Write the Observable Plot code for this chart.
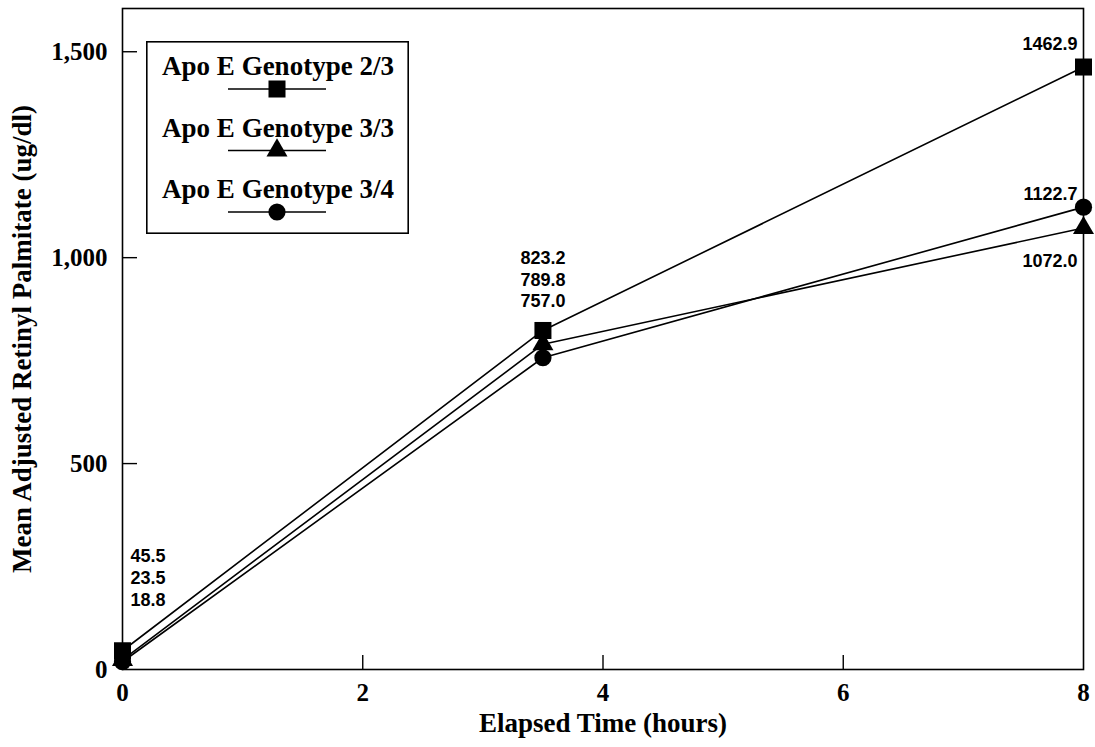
<!DOCTYPE html>
<html>
<head>
<meta charset="utf-8">
<script src="https://cdn.jsdelivr.net/npm/d3@7"></script>
<script src="https://cdn.jsdelivr.net/npm/@observablehq/plot@0.6"></script>
<style>
  html, body { margin: 0; padding: 0; background: #fff; }
  #wrap { position: relative; width: 1095px; height: 747px; }
  #legend { position: absolute; left: 146px; top: 41px; }
</style>
</head>
<body>
<div id="wrap"></div>
<script>
// ---- data ----
const times = [0, 3.5, 8];
const seriesNames = ["Apo E Genotype 2/3", "Apo E Genotype 3/3", "Apo E Genotype 3/4"];
const values23 = [45.5, 823.2, 1462.9];
const values33 = [23.5, 789.8, 1072.0];
const values34 = [18.8, 757.0, 1122.7];
const xTicks = [0, 2, 4, 6, 8];
const yTicks = [0, 500, 1000, 1500];
const xLabel = "Elapsed Time (hours)";
const yLabel = "Mean Adjusted Retinyl Palmitate (ug/dl)";

const seriesValues = [values23, values33, values34];
const symbols = ["square", "triangle", "circle"];
const radii = [9.6, 7.8, 8.6];

const rows = [];
seriesNames.forEach((s, i) => times.forEach((t, j) => rows.push({series: s, time: t, value: seriesValues[i][j]})));

const fmt = d3.format(".1f");
// stacked labels at a time index (values descending)
function groupLabel(j) {
  const vals = seriesValues.map(v => v[j]).sort((a, b) => b - a);
  return {time: times[j], value: vals[0], text: vals.map(fmt).join("\n")};
}
function pointLabel(i, j) {
  return {time: times[j], value: seriesValues[i][j], text: fmt(seriesValues[i][j])};
}

const serif = "Liberation Serif, Times New Roman, serif";
const sans = "Liberation Sans, Arial, Helvetica, sans-serif";
const labelStyle = {x: "time", y: "value", text: "text", fontFamily: sans, fontWeight: "bold", fontSize: 18, fill: "black", lineHeight: 1.22};

const marks = [
  Plot.line(rows, {x: "time", y: "value", z: "series", stroke: "black", strokeWidth: 1.6}),
  ...seriesNames.map((s, i) => Plot.dot(rows.filter(d => d.series === s), {x: "time", y: "value", symbol: symbols[i], r: radii[i], fill: "black", stroke: "none"})),
  Plot.frame({stroke: "black", strokeWidth: 1.6}),
  Plot.axisX({ticks: xTicks.slice(1, -1), tickSize: -14, text: null, label: null, strokeWidth: 1.4}),
  Plot.axisY({ticks: yTicks.slice(1), tickSize: -15, text: null, label: null, strokeWidth: 1.4}),
  Plot.axisX({ticks: xTicks, tickSize: 0, tickPadding: 14, label: null, fontFamily: serif, fontWeight: "bold", fontSize: 25, tickFormat: d3.format("d")}),
  Plot.axisY({ticks: yTicks, tickSize: 0, tickPadding: 15, label: null, fontFamily: serif, fontWeight: "bold", fontSize: 25, tickFormat: d3.format(",")}),
  Plot.text([xLabel], {frameAnchor: "bottom", dy: 62, textAnchor: "middle", fontFamily: serif, fontWeight: "bold", fontSize: 27, fill: "black"}),
  Plot.text([yLabel], {frameAnchor: "left", rotate: -90, textAnchor: "middle", dx: -100, dy: 0, fontFamily: serif, fontWeight: "bold", fontSize: 27, fill: "black"}),
  Plot.text([groupLabel(0)], {...labelStyle, textAnchor: "start", dx: 8, dy: -74}),
  Plot.text([groupLabel(1)], {...labelStyle, textAnchor: "middle", dx: 0, dy: -52}),
  Plot.text([pointLabel(0, 2)], {...labelStyle, textAnchor: "end", dx: -6, dy: -24}),
  Plot.text([pointLabel(2, 2)], {...labelStyle, textAnchor: "end", dx: -6, dy: -14}),
  Plot.text([pointLabel(1, 2)], {...labelStyle, textAnchor: "end", dx: -6, dy: 32})
];

const chart = Plot.plot({
  width: 1095,
  height: 747,
  marginLeft: 122,
  marginRight: 12,
  marginTop: 8,
  marginBottom: 78,
  style: {background: "white", color: "black", overflow: "visible"},
  x: {domain: [0, 8]},
  y: {domain: [0, 1605]},
  marks
});
document.getElementById("wrap").appendChild(chart);

// ---- legend (boxed, inside plot area) ----
const lw = 263, lh = 193;
const leg = d3.select("#wrap").append("svg").attr("id", "legend").attr("width", lw).attr("height", lh);
leg.append("rect").attr("x", 0.8).attr("y", 0.8).attr("width", lw - 1.6).attr("height", lh - 1.6)
  .attr("fill", "white").attr("stroke", "black").attr("stroke-width", 1.6);
const symMap = {square: d3.symbolSquare, triangle: d3.symbolTriangle, circle: d3.symbolCircle};
seriesNames.forEach((s, i) => {
  const base = 34 + i * 61.5;
  const ly = base + 14;
  leg.append("text").attr("x", 132).attr("y", base).attr("text-anchor", "middle")
    .attr("font-family", serif).attr("font-weight", "bold").attr("font-size", 27).attr("fill", "black").text(s);
  leg.append("line").attr("x1", 82).attr("x2", 180).attr("y1", ly).attr("y2", ly).attr("stroke", "black").attr("stroke-width", 1.6);
  leg.append("path").attr("transform", `translate(131,${ly})`)
    .attr("d", d3.symbol(symMap[symbols[i]], Math.PI * radii[i] * radii[i])()).attr("fill", "black");
});
</script>
</body>
</html>
